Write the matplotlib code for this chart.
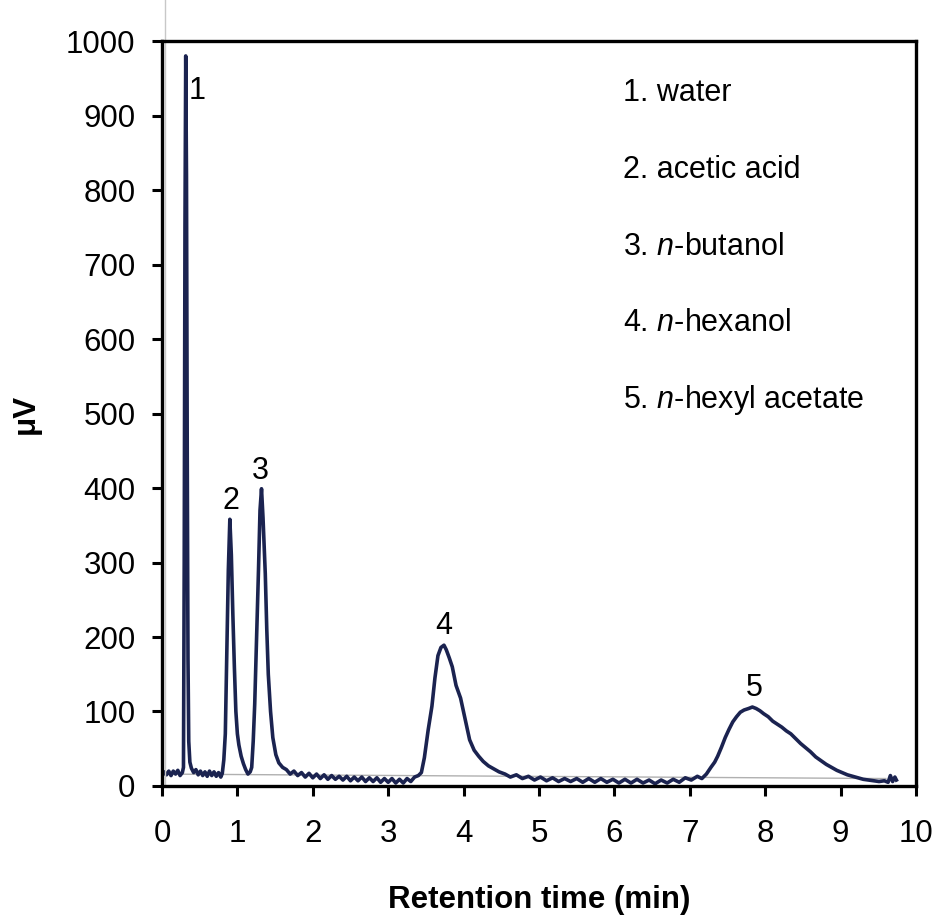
""" Gas chromatogram of the hexyl acetate reaction mixture
"""

import matplotlib
matplotlib.use('Agg')
import matplotlib.pyplot as plt

plt.rcParams['font.family'] = ['Liberation Sans', 'DejaVu Sans']
plt.rcParams['mathtext.fontset'] = 'custom'
plt.rcParams['mathtext.rm'] = 'Liberation Sans'
plt.rcParams['mathtext.it'] = 'Liberation Sans:italic'

FONT_SIZE = 22.5
TEXT_SIZE = 22
TRACE_COLOR = '#1b2350'

# detector signal (min, uV)
time_min = [0.00, 0.03, 0.06, 0.09, 0.12, 0.15, 0.18, 0.21, 0.24, 0.27,
            0.285, 0.295, 0.305, 0.315, 0.325, 0.335, 0.345, 0.355, 0.37, 0.39,
            0.42, 0.45, 0.48, 0.51, 0.54, 0.57, 0.60, 0.63, 0.66, 0.69,
            0.72, 0.75, 0.78, 0.80,
            0.82, 0.84, 0.86, 0.88, 0.90, 0.92, 0.94, 0.96, 0.98, 1.00,
            1.02, 1.05, 1.08, 1.11, 1.14, 1.17,
            1.19, 1.21, 1.23, 1.25, 1.28, 1.30, 1.32, 1.34, 1.37, 1.39,
            1.41, 1.44, 1.47, 1.51, 1.55, 1.60,
            1.65, 1.70, 1.75, 1.80, 1.85, 1.90, 1.95, 2.00, 2.05, 2.10,
            2.15, 2.20, 2.25, 2.30, 2.35, 2.40, 2.45, 2.50, 2.55, 2.60,
            2.65, 2.70, 2.75, 2.80, 2.85, 2.90, 2.95, 3.00, 3.05, 3.10,
            3.15, 3.20, 3.25, 3.30, 3.35, 3.40,
            3.44, 3.48, 3.53, 3.58, 3.62, 3.66, 3.70, 3.74, 3.77, 3.81,
            3.85, 3.90, 3.96, 4.02, 4.08, 4.14, 4.20, 4.26, 4.33, 4.40, 4.47,
            4.55, 4.62, 4.70, 4.78, 4.86, 4.94, 5.02, 5.10, 5.18, 5.26,
            5.34, 5.42, 5.50, 5.58, 5.66, 5.74, 5.82, 5.90, 5.98, 6.06,
            6.14, 6.22, 6.30, 6.38, 6.46, 6.54, 6.62, 6.70, 6.78, 6.86,
            6.94, 7.02, 7.10, 7.16,
            7.22, 7.28, 7.33, 7.37, 7.42, 7.47, 7.52, 7.57, 7.62, 7.67,
            7.72, 7.78, 7.83, 7.88, 7.93, 7.98, 8.04, 8.10, 8.16, 8.22,
            8.28, 8.34, 8.40, 8.47, 8.54, 8.60, 8.67, 8.74, 8.81, 8.88,
            8.95, 9.02, 9.09, 9.16, 9.23, 9.30, 9.37, 9.44, 9.51, 9.58,
            9.63, 9.66, 9.69, 9.72, 9.74]
signal_uv = [13, 19, 15, 20, 14, 20, 16, 21, 14, 18,
             25, 300, 750, 980, 820, 450, 170, 60, 32, 24,
             18, 22, 15, 20, 14, 19, 13, 20, 14, 19,
             13, 18, 12, 17,
             35, 70, 180, 290, 358, 310, 230, 160, 100, 70,
             55, 40, 30, 22, 16, 19,
             25, 60, 110, 180, 290, 370, 399, 360, 285, 210,
             150, 100, 65, 42, 31, 25,
             22, 16, 20, 14, 18, 12, 17, 11, 16, 10,
             15, 9, 14, 9, 13, 8, 13, 7, 12, 7,
             12, 6, 11, 6, 11, 5, 10, 5, 10, 4,
             9, 4, 10, 6, 12, 14,
             18, 38, 75, 107, 145, 175, 186, 189, 183, 172,
             160, 135, 118, 90, 62, 48, 40, 33, 27, 23, 19,
             16, 12, 15, 10, 13, 8, 12, 7, 11, 6,
             10, 6, 10, 5, 10, 5, 10, 5, 9, 4,
             9, 4, 9, 4, 8, 3, 8, 4, 9, 5,
             11, 8, 13, 10,
             16, 25, 32, 40, 52, 65, 76, 86, 93, 99,
             102, 104, 106, 104, 101, 97, 93, 87, 83, 79,
             74, 70, 64, 57, 51, 46, 39, 34, 29, 25,
             21, 18, 15, 13, 11, 9, 8, 7, 6, 7,
             5, 14, 6, 12, 8]

# grey integration baseline
base_time = [0.0, 9.6]
base_uv = [16, 10]

# peak numbers
peak_ids = ['1', '2', '3', '4', '5']
peak_label_x = [0.46, 0.92, 1.31, 3.74, 7.85]
peak_label_y = [933, 382, 423, 215, 132]

compounds = ['1. water', '2. acetic acid', '3. $n$-butanol',
             '4. $n$-hexanol', '5. $n$-hexyl acetate']
legend_y = [930, 827, 724, 622, 518]

fig = plt.figure(figsize=(9.39, 9.18), dpi=100)
ax = fig.add_axes([0.1725, 0.1438, 0.803, 0.8115])

ax.plot(base_time, base_uv, color='#b0b0b0', linewidth=1.0)
ax.plot(time_min, signal_uv, color=TRACE_COLOR, linewidth=2.6)

# stray scan line along the left spine
ax.plot([0.04, 0.04], [0, 1055], color='#c8c8c8', linewidth=1.0, clip_on=False)

for pid, px, py in zip(peak_ids, peak_label_x, peak_label_y):
    ax.text(px, py, pid, fontsize=TEXT_SIZE, ha='center', va='center')

for name, ly in zip(compounds, legend_y):
    ax.text(6.11, ly, name, fontsize=TEXT_SIZE, ha='left', va='center')

ax.set_xlim(0, 10)
ax.set_ylim(0, 1000)
ax.set_xticks(range(0, 11))
ax.set_yticks(range(0, 1001, 100))
ax.tick_params(axis='both', labelsize=FONT_SIZE, width=2.2, length=7,
               direction='out')
ax.tick_params(axis='x', pad=17)
ax.tick_params(axis='y', pad=12)
ax.tick_params(top=False, right=False)
for spine in ax.spines.values():
    spine.set_linewidth(2.4)

ax.set_xlabel('Retention time (min)', fontsize=FONT_SIZE, fontweight='bold',
              labelpad=26)
ax.set_ylabel('μV', fontsize=FONT_SIZE, fontweight='bold', labelpad=18)

fig.savefig('out.png', dpi=100)
